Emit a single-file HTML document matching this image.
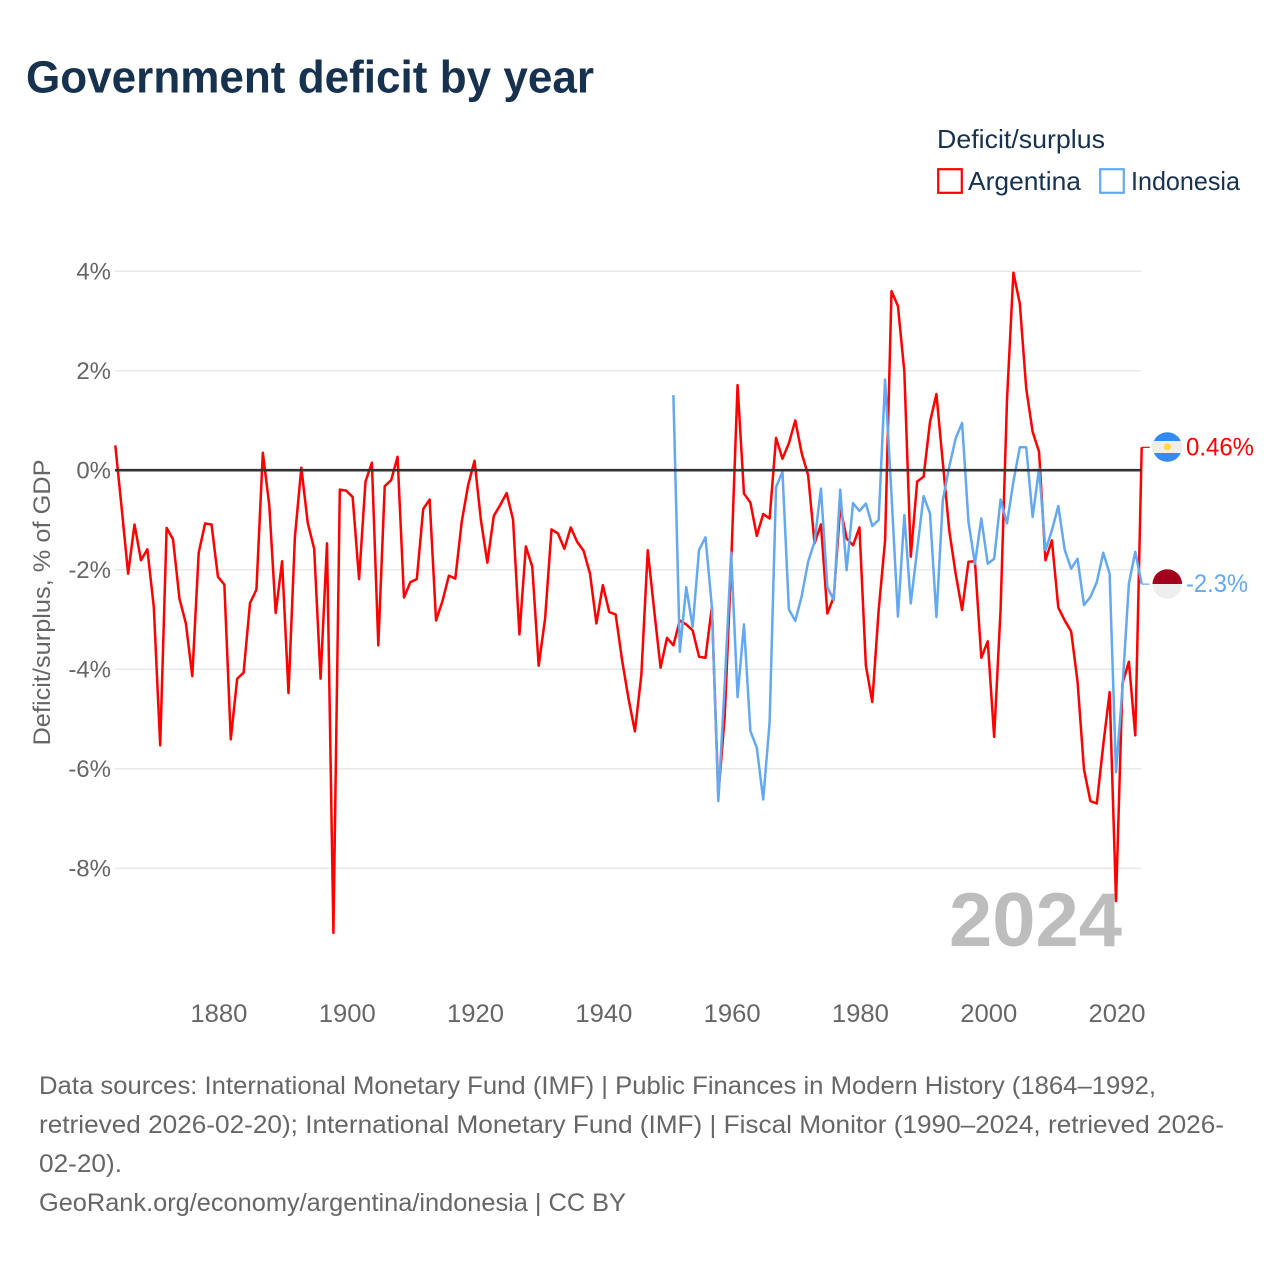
<!DOCTYPE html>
<html lang="en">
<head>
<meta charset="utf-8">
<title>Government deficit by year</title>
<style>
  html, body { margin: 0; padding: 0; background: #fff; }
  svg { display: block; font-family: "Liberation Sans", "DejaVu Sans", sans-serif; }
</style>
</head>
<body>
<svg id="chart" xmlns="http://www.w3.org/2000/svg" width="1280" height="1280" viewBox="0 0 1280 1280">
  <rect x="0" y="0" width="1280" height="1280" fill="#ffffff"/>
  <text x="26" y="92.5" font-size="45" font-weight="700" fill="#17324f" textLength="568" lengthAdjust="spacingAndGlyphs">Government deficit by year</text>

  <g>
    <text x="937" y="148" font-size="26" fill="#17324f" textLength="168" lengthAdjust="spacingAndGlyphs">Deficit/surplus</text>
    <g>
      <rect x="938.2" y="169.2" width="23.6" height="23.6" fill="none" stroke="#ff0000" stroke-width="2.2"/>
      <text x="968" y="190" font-size="26" fill="#17324f" textLength="113" lengthAdjust="spacingAndGlyphs">Argentina</text>
    </g>
    <g>
      <rect x="1100.2" y="169.2" width="23.6" height="23.6" fill="none" stroke="#64a9ef" stroke-width="2.2"/>
      <text x="1131" y="190" font-size="26" fill="#17324f" textLength="109" lengthAdjust="spacingAndGlyphs">Indonesia</text>
    </g>
  </g>

  <g id="grid"></g>
  <g id="yticks"></g>
  <g id="xticks"></g>
  <text transform="translate(50,602.5) rotate(-90)" text-anchor="middle" font-size="24" fill="#666666" textLength="286" lengthAdjust="spacingAndGlyphs">Deficit/surplus, % of GDP</text>

  <text x="949" y="946" font-size="76" font-weight="700" fill="#bdbdbd" textLength="173" lengthAdjust="spacingAndGlyphs">2024</text>

  <g id="series"></g>
  <g id="zero"></g>
  <g id="endmarks"></g>

  <defs>
    <clipPath id="clip-ar"><circle cx="1167.3" cy="447" r="14.8"/></clipPath>
    <clipPath id="clip-id"><circle cx="1167.3" cy="584" r="14.8"/></clipPath>
  </defs>
  <g id="flag-ar-group" clip-path="url(#clip-ar)">
    <rect x="1152" y="432" width="30" height="30" fill="#338af3"/>
    <rect x="1152" y="441" width="30" height="12" fill="#eeeeee"/>
    <circle cx="1167.3" cy="447" r="3.6" fill="#ffda44"/>
  </g>
  <g id="flag-id-group" clip-path="url(#clip-id)">
    <rect x="1152" y="569" width="30" height="15" fill="#a2001d"/>
    <rect x="1152" y="584" width="30" height="15" fill="#eeeeee"/>
  </g>

  <g font-size="25" fill="#666666">
    <text x="39" y="1094" textLength="1117" lengthAdjust="spacingAndGlyphs">Data sources: International Monetary Fund (IMF) | Public Finances in Modern History (1864–1992,</text>
    <text x="39" y="1133" textLength="1185" lengthAdjust="spacingAndGlyphs">retrieved 2026-02-20); International Monetary Fund (IMF) | Fiscal Monitor (1990–2024, retrieved 2026-</text>
    <text x="39" y="1172" textLength="83" lengthAdjust="spacingAndGlyphs">02-20).</text>
    <text x="39" y="1211" textLength="587" lengthAdjust="spacingAndGlyphs">GeoRank.org/economy/argentina/indonesia | CC BY</text>
  </g>
</svg>

<script>
var argentinaStartYear = 1864;
var argentinaValues = [
  0.50,-0.77,-2.08,-1.09,-1.81,-1.59,-2.75,-5.53,-1.16,-1.39,
  -2.58,-3.08,-4.14,-1.66,-1.07,-1.09,-2.14,-2.30,-5.41,-4.19,
  -4.07,-2.67,-2.40,0.35,-0.70,-2.87,-1.83,-4.48,-1.34,0.05,
  -1.06,-1.58,-4.19,-1.47,-9.30,-0.39,-0.41,-0.54,-2.19,-0.23,
  0.15,-3.52,-0.32,-0.20,0.27,-2.56,-2.25,-2.19,-0.78,-0.59,
  -3.02,-2.63,-2.12,-2.18,-1.04,-0.30,0.19,-1.01,-1.86,-0.92,
  -0.70,-0.46,-0.99,-3.30,-1.53,-1.94,-3.93,-2.98,-1.19,-1.27,
  -1.58,-1.15,-1.44,-1.62,-2.08,-3.08,-2.31,-2.85,-2.90,-3.82,
  -4.59,-5.25,-4.12,-1.61,-2.81,-3.97,-3.37,-3.52,-3.02,-3.10,
  -3.22,-3.75,-3.77,-2.75,-6.54,-4.95,-1.90,1.71,-0.47,-0.65,
  -1.32,-0.88,-0.97,0.65,0.23,0.54,1.00,0.34,-0.10,-1.47,
  -1.09,-2.88,-2.55,-0.74,-1.37,-1.51,-1.15,-3.92,-4.66,-2.81,
  -1.41,3.60,3.30,1.98,-1.74,-0.23,-0.13,0.97,1.53,0.15,
  -1.21,-2.08,-2.81,-1.84,-1.83,-3.77,-3.44,-5.36,-2.81,1.41,
  3.97,3.35,1.64,0.77,0.37,-1.81,-1.41,-2.76,-3.02,-3.24,
  -4.25,-6.01,-6.65,-6.70,-5.53,-4.46,-8.66,-4.29,-3.85,-5.33,
  0.46
];
var indonesiaStartYear = 1951;
var indonesiaValues = [
  1.51,-3.65,-2.35,-3.15,-1.60,-1.35,-2.75,-6.65,-4.30,-1.66,
  -4.56,-3.10,-5.24,-5.58,-6.62,-5.06,-0.34,-0.03,-2.80,-3.03,
  -2.53,-1.84,-1.44,-0.37,-2.35,-2.61,-0.39,-2.01,-0.66,-0.82,
  -0.67,-1.12,-1.00,1.82,-0.50,-2.94,-0.90,-2.68,-1.60,-0.52,
  -0.87,-2.95,-0.60,0.07,0.64,0.95,-1.04,-1.88,-0.97,-1.88,
  -1.78,-0.59,-1.07,-0.23,0.46,0.46,-0.94,0.03,-1.61,-1.21,
  -0.72,-1.60,-1.98,-1.78,-2.71,-2.55,-2.25,-1.66,-2.08,-6.07,
  -4.39,-2.28,-1.64,-2.29
];
var yTickValues = [4, 2, 0, -2, -4, -6, -8];
var yTickLabels = ["4%", "2%", "0%", "-2%", "-4%", "-6%", "-8%"];
var xTickYears = [1880, 1900, 1920, 1940, 1960, 1980, 2000, 2020];
var argentinaEndLabel = "0.46%";
var indonesiaEndLabel = "-2.3%";

var NS = "http://www.w3.org/2000/svg";
function xScale(year) { return 115.3 + (year - 1864) * 6.415; }
function yScale(v) { return 470.2 - v * 49.75; }
function make(tag, parent, attrs) {
  var el = document.createElementNS(NS, tag);
  for (var k in attrs) { el.setAttribute(k, attrs[k]); }
  document.getElementById(parent).appendChild(el);
  return el;
}
function linePoints(startYear, values) {
  return values.map(function (v, i) {
    return xScale(startYear + i).toFixed(2) + "," + yScale(v).toFixed(2);
  }).join(" ");
}

yTickValues.forEach(function (v, i) {
  if (v !== 0) {
    var g = make("line", "grid", { x1: 115, x2: 1141, y1: yScale(v), y2: yScale(v), stroke: "#e8e8e8", "stroke-width": 1.5 });
    
    
  }
  var t = make("text", "yticks", { x: 111, y: yScale(v) + 8.5, "text-anchor": "end", "font-size": 24, fill: "#666666" });
  
  
  t.textContent = yTickLabels[i];
});

xTickYears.forEach(function (yr) {
  var t = make("text", "xticks", { x: xScale(yr) + 1, y: 1022, "text-anchor": "middle", "font-size": 25, fill: "#666666", textLength: 57, lengthAdjust: "spacingAndGlyphs" });
  
  
  t.textContent = String(yr);
});

var redLine = make("polyline", "series", { points: linePoints(argentinaStartYear, argentinaValues), fill: "none", stroke: "#ff0000", "stroke-width": 2.5, "stroke-linejoin": "round" });



var blueLine = make("polyline", "series", { points: linePoints(indonesiaStartYear, indonesiaValues), fill: "none", stroke: "#64a9ef", "stroke-width": 2.5, "stroke-linejoin": "round" });



var zeroLine = make("line", "zero", { x1: 115, x2: 1141, y1: yScale(0), y2: yScale(0), stroke: "#333333", "stroke-width": 2.6 });



var lastYear = 2024;
var redEnd = argentinaValues[argentinaValues.length - 1];
var blueEnd = indonesiaValues[indonesiaValues.length - 1];

var redConn = make("line", "endmarks", { x1: xScale(lastYear), x2: xScale(lastYear) + 8, y1: yScale(redEnd), y2: yScale(redEnd), stroke: "#ff0000", "stroke-width": 1.2 });



var blueConn = make("line", "endmarks", { x1: xScale(lastYear), x2: xScale(lastYear) + 8, y1: yScale(blueEnd), y2: yScale(blueEnd), stroke: "#64a9ef", "stroke-width": 1.2 });



var redLabel = make("text", "endmarks", { x: 1186, y: yScale(redEnd) + 8, "font-size": 25, fill: "#ff0000", textLength: 68, lengthAdjust: "spacingAndGlyphs" });


redLabel.textContent = argentinaEndLabel;

var blueLabel = make("text", "endmarks", { x: 1186, y: yScale(blueEnd) + 8, "font-size": 25, fill: "#64a9ef", textLength: 62, lengthAdjust: "spacingAndGlyphs" });


blueLabel.textContent = indonesiaEndLabel;
</script>
</body>
</html>
